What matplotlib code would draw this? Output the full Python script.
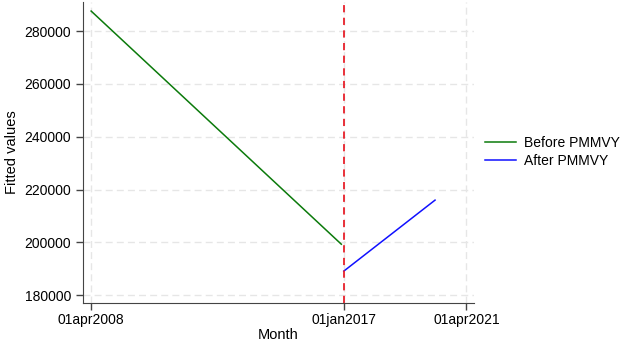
import numpy as np
import matplotlib
matplotlib.use("Agg")
import matplotlib.pyplot as plt

before_dates = np.array(["2008-04-01", "2016-12-01"], dtype="datetime64[D]")
before_vals = [287600, 199300]
after_dates = np.array(["2017-01-01", "2020-03-01"], dtype="datetime64[D]")
after_vals = [189100, 216000]

xticks = np.array(["2008-04-01", "2017-01-01", "2021-04-01"], dtype="datetime64[D]")
xtick_labels = ["01apr2008", "01jan2017", "01apr2021"]
yticks = [180000, 200000, 220000, 240000, 260000, 280000]
cutoff = np.datetime64("2017-01-01")

plt.rcParams['font.family'] = ['Liberation Sans', 'DejaVu Sans']

fig = plt.figure(figsize=(6.24, 3.46), dpi=100)
ax = fig.add_axes([0.133, 0.124, 0.627, 0.87])

ax.plot(before_dates, before_vals, color='#0b7a0b', linewidth=1.1, label='Before PMMVY')
ax.plot(after_dates, after_vals, color='#1010ff', linewidth=1.1, label='After PMMVY')
ax.axvline(cutoff, color='#e8202a', linestyle=(0, (4, 3)), linewidth=1.3)

ax.set_xlim(np.datetime64("2007-12-20"), np.datetime64("2021-07-10"))
ax.set_ylim(177000, 291000)
ax.set_xticks(xticks)
ax.set_xticklabels(xtick_labels)
ax.set_yticks(yticks)
ax.tick_params(labelsize=10, length=5, color='#444444', width=1)
ax.tick_params(axis='x', pad=2)
ax.grid(True, color='#e6e6e6', linestyle=(0, (5, 3)), linewidth=1)
ax.set_axisbelow(True)

for s in ['top', 'right']:
    ax.spines[s].set_visible(False)
for s in ['left', 'bottom']:
    ax.spines[s].set_color('#444444')

ax.set_xlabel('Month', fontsize=10.5, labelpad=1)
ax.set_ylabel('Fitted values', fontsize=10.5)

fig.legend(loc='center left', bbox_to_anchor=(0.778, 0.561), frameon=False,
           fontsize=10, handlelength=2.2, handletextpad=0.55, labelspacing=0.25,
           borderpad=0, borderaxespad=0)

fig.savefig("out.png", dpi=100)
